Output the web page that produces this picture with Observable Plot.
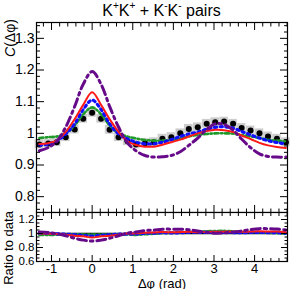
<!DOCTYPE html>
<html><head><meta charset="utf-8">
<script src="https://cdn.jsdelivr.net/npm/d3@7"></script>
<script src="https://cdn.jsdelivr.net/npm/@observablehq/plot@0.6"></script>
<style>
body{margin:0;background:#fff;font-family:"Liberation Sans",Arial,sans-serif;}
#wrap{position:relative;width:291px;height:289px;overflow:hidden;background:#fff;}
.abs{position:absolute;white-space:nowrap;color:#000;line-height:1;}
sup{font-size:10px;vertical-align:0;position:relative;top:-7px;}
#topplot,#botplot{position:absolute;left:0;}
#topplot{top:21px;}
#botplot{top:211px;}
</style></head><body>
<div id="wrap">
<div class="abs" style="left:0;width:323px;top:3px;text-align:center;font-size:16px;">K<sup>+</sup>K<sup>+</sup> + K<sup>-</sup>K<sup>-</sup> pairs</div>
<div id="topplot"></div>
<div id="botplot"></div>
<div class="abs" style="left:10px;top:38px;transform:translate(-50%,-50%) rotate(-90deg);font-size:14px;"><i>C</i>(Δφ)</div>
<div class="abs" style="left:8px;top:248px;transform:translate(-50%,-50%) rotate(-90deg);font-size:13px;">Ratio to data</div>
<div class="abs" style="left:162px;top:283px;transform:translate(-50%,-50%);font-size:13px;">Δφ (rad)</div>
</div>
<script>
// ---- data ----
const dphi  = [-1.30,-1.08,-0.87,-0.65,-0.43,-0.22,0.00,0.22,0.43,0.65,0.87,1.08,1.30,1.52,1.73,1.95,2.17,2.38,2.60,2.82,3.03,3.25,3.47,3.68,3.90,4.12,4.33,4.55,4.77];
const dataC = [0.965,0.968,0.972,0.988,1.012,1.046,1.065,1.046,1.011,0.988,0.975,0.965,0.969,0.972,0.983,0.988,1.000,1.014,1.019,1.030,1.035,1.037,1.030,1.017,1.009,1.000,0.990,0.983,0.972];
const sysErr = 0.014;
const binHalf = 0.105;
const redC    = [0.966,0.969,0.978,1.005,1.045,1.090,1.130,1.090,1.045,1.005,0.975,0.963,0.958,0.958,0.964,0.972,0.980,0.990,1.000,1.007,1.011,1.010,1.004,0.993,0.982,0.970,0.962,0.957,0.954];
const blueC   = [0.962,0.966,0.976,0.998,1.030,1.075,1.105,1.075,1.030,0.998,0.982,0.972,0.967,0.967,0.972,0.980,0.990,0.998,1.004,1.013,1.019,1.021,1.016,1.006,0.995,0.985,0.977,0.971,0.967];
const greenC  = [0.985,0.988,0.990,1.000,1.025,1.060,1.082,1.060,1.025,1.000,0.990,0.984,0.979,0.977,0.977,0.979,0.984,0.990,0.995,0.998,1.000,1.000,0.999,0.995,0.990,0.985,0.980,0.977,0.975];
const purpleC = [0.945,0.955,0.975,1.020,1.085,1.155,1.195,1.155,1.085,1.020,0.970,0.945,0.930,0.925,0.926,0.930,0.942,0.962,0.985,1.012,1.030,1.028,1.010,0.982,0.955,0.935,0.927,0.925,0.925];

const xMajor = [-1,0,1,2,3,4];
const yMajorTop = [0.8,0.9,1.0,1.1,1.2,1.3];
const yMajorBot = [0.6,0.8,1.0,1.2];

// ---- styles ----
const models = [
  {name:"green",  vals:greenC,  stroke:"#1f9a2a", width:2.6, dash:"4,2.5,1.5,2.5"},
  {name:"blue",   vals:blueC,   stroke:"#1010ff", width:3.2, dash:"2.2,3.5"},
  {name:"red",    vals:redC,    stroke:"#ff1a1a", width:2,   dash:null},
  {name:"purple", vals:purpleC, stroke:"#660a8a", width:3,   dash:"9,4,2.5,4"}
];

const pts = dphi.map((x,i)=>({x, c:dataC[i]}));
const xDomain = [-1.37, 4.81];
const xMinor = d3.range(-1.2, 4.81, 0.2).filter(v => Math.abs(v - Math.round(v)) > 1e-6);
const fmt = d => String(+d.toFixed(2));
const blank = () => "";

function frameTicks(yMajor, yMinor, yFont, withXLabels, xTick, yTick){
  return [
    Plot.axisY(yMajor, {anchor:"left", tickSize:-yTick, tickPadding:yTick+2, fontSize:yFont, tickFormat: fmt, label:null}),
    Plot.axisY(yMinor, {anchor:"left", tickSize:-yTick/2, tickFormat:blank, label:null}),
    Plot.axisY(yMajor, {anchor:"right", tickSize:-yTick, tickFormat:blank, label:null}),
    Plot.axisY(yMinor, {anchor:"right", tickSize:-yTick/2, tickFormat:blank, label:null}),
    Plot.axisX(xMajor, {anchor:"bottom", tickSize:-xTick, tickPadding:xTick+2, fontSize:13, tickFormat: withXLabels ? fmt : blank, label:null}),
    Plot.axisX(xMinor, {anchor:"bottom", tickSize:-xTick/2, tickFormat:blank, label:null}),
    Plot.axisX(xMajor, {anchor:"top", tickSize:-xTick, tickFormat:blank, label:null}),
    Plot.axisX(xMinor, {anchor:"top", tickSize:-xTick/2, tickFormat:blank, label:null})
  ];
}

const yMinorTop = d3.range(0.76, 1.35, 0.02).filter(v => Math.abs(v*10 - Math.round(v*10)) > 1e-6);
const topPlot = Plot.plot({
  width:291, height:192, marginLeft:36, marginRight:4, marginTop:1, marginBottom:1,
  style:{fontFamily:"Liberation Sans, Arial, sans-serif", background:"transparent"},
  x:{domain:xDomain}, y:{domain:[0.75,1.35]},
  marks:[
    Plot.rect(pts, {x1:d=>d.x-binHalf, x2:d=>d.x+binHalf, y1:d=>d.c-sysErr, y2:d=>d.c+sysErr, fill:"#cdcdcd"}),
    Plot.dot(pts, {x:"x", y:"c", r:3, fill:"black", stroke:"none"}),
    ...models.map(m => Plot.line(dphi.map((x,i)=>({x, v:m.vals[i]})), {x:"x", y:"v", stroke:m.stroke, strokeWidth:m.width, strokeDasharray:m.dash, curve:"catmull-rom"})),
    Plot.frame({stroke:"black", strokeWidth:1.2}),
    ...frameTicks(yMajorTop, yMinorTop, 14, false, 7, 8)
  ]
});
document.getElementById("topplot").append(topPlot);

const yMinorBot = d3.range(0.65, 1.31, 0.05).filter(v => Math.abs(v*5 - Math.round(v*5)) > 1e-6);
const ratioMarks = models.map(m => Plot.line(dphi.map((x,i)=>({x, r:dataC[i]/m.vals[i]})), {x:"x", y:"r", stroke:m.stroke, strokeWidth:m.width, strokeDasharray:m.dash, curve:"catmull-rom"}));
const botPlot = Plot.plot({
  width:291, height:78, marginLeft:36, marginRight:4, marginTop:1, marginBottom:28,
  style:{fontFamily:"Liberation Sans, Arial, sans-serif", background:"transparent"},
  x:{domain:xDomain}, y:{domain:[0.6,1.3]},
  marks:[
    Plot.ruleY([1], {stroke:"black", strokeWidth:1.5}),
    ...ratioMarks,
    Plot.frame({stroke:"black", strokeWidth:1.2}),
    ...frameTicks(yMajorBot, yMinorBot, 11.5, true, 6, 7)
  ]
});
document.getElementById("botplot").append(botPlot);
</script>
</body></html>
